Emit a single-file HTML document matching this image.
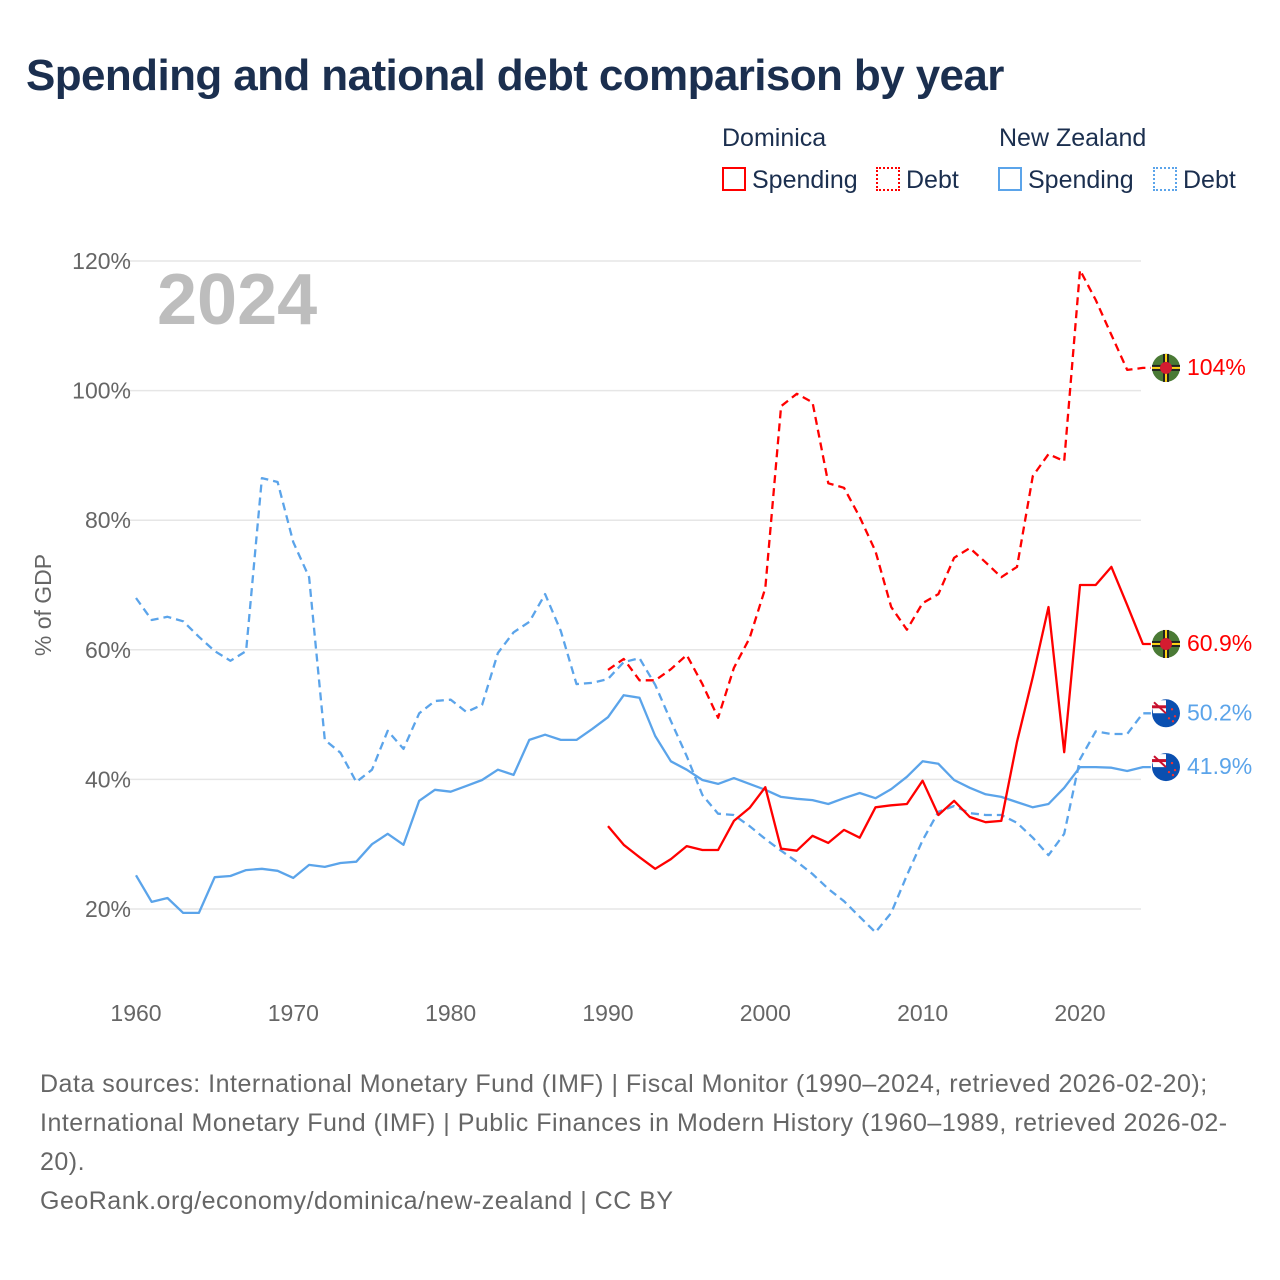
<!DOCTYPE html>
<html><head><meta charset="utf-8">
<style>
body{margin:0;background:#fff;font-family:"Liberation Sans",sans-serif;}
#wrap{position:relative;width:1280px;height:1280px;overflow:hidden;}
.t{position:absolute;white-space:nowrap;}
</style></head>
<body>
<div id="wrap">
<div class="t" style="left:26px;top:51px;font-size:44px;font-weight:bold;color:#1b2f4f;letter-spacing:-0.6px">Spending and national debt comparison by year</div>
<div class="t" style="left:722px;top:124px;font-size:25px;color:#1b2f4f">Dominica</div>
<div class="t" style="left:999px;top:124px;font-size:25px;color:#1b2f4f">New Zealand</div>
<div class="t" style="left:722px;top:166px;font-size:25px;color:#1b2f4f"><span style="display:inline-block;width:20px;height:20px;border:2px solid #f00;vertical-align:-3px;margin-right:6px"></span>Spending</div>
<div class="t" style="left:876px;top:166px;font-size:25px;color:#1b2f4f"><span style="display:inline-block;width:20px;height:20px;border:2px dotted #f00;vertical-align:-3px;margin-right:6px"></span>Debt</div>
<div class="t" style="left:998px;top:166px;font-size:25px;color:#1b2f4f"><span style="display:inline-block;width:20px;height:20px;border:2px solid #5ba4ea;vertical-align:-3px;margin-right:6px"></span>Spending</div>
<div class="t" style="left:1153px;top:166px;font-size:25px;color:#1b2f4f"><span style="display:inline-block;width:20px;height:20px;border:2px dotted #5ba4ea;vertical-align:-3px;margin-right:6px"></span>Debt</div>
<svg id="chart" width="1280" height="1280" style="position:absolute;left:0;top:0"></svg>
<div class="t" style="left:40px;top:1065px;font-size:25px;letter-spacing:0.5px;color:#666;line-height:39px;white-space:normal;width:1195px">Data sources: International Monetary Fund (IMF) | Fiscal Monitor (1990–2024, retrieved 2026-02-20); International Monetary Fund (IMF) | Public Finances in Modern History (1960–1989, retrieved 2026-02-20).<br>GeoRank.org/economy/dominica/new-zealand | CC BY</div>
</div>
<script>
const nzYears0 = 1960;
const nzSpending = [25.2,21.1,21.7,19.4,19.4,24.9,25.1,26.0,26.2,25.9,24.8,26.8,26.5,27.1,27.3,30.0,31.6,29.9,36.7,38.4,38.1,39.0,39.9,41.5,40.7,46.1,46.9,46.1,46.1,47.8,49.6,53.0,52.6,46.7,42.8,41.5,39.9,39.3,40.2,39.3,38.4,37.3,37.0,36.8,36.2,37.1,37.9,37.1,38.5,40.4,42.8,42.4,39.9,38.7,37.7,37.3,36.5,35.7,36.2,38.7,41.9,41.9,41.8,41.3,41.9];
const nzDebt = [68.0,64.6,65.1,64.4,62.0,59.8,58.3,59.8,86.5,85.9,76.6,71.2,46.1,44.1,39.6,41.5,47.5,44.7,50.2,52.1,52.3,50.4,51.5,59.5,62.7,64.3,68.6,62.9,54.7,54.9,55.5,58.1,58.7,54.6,49.0,43.6,37.6,34.7,34.5,32.8,30.8,29.0,27.3,25.4,23.1,21.2,18.8,16.4,19.4,25.2,30.6,35.0,35.9,34.8,34.5,34.5,33.3,31.0,28.3,31.6,43.1,47.4,47.0,47.0,50.2];
const dmYears0 = 1990;
const dmSpending = [32.8,29.9,28.0,26.2,27.7,29.7,29.1,29.1,33.6,35.6,38.8,29.3,29.0,31.3,30.2,32.2,31.0,35.7,36.0,36.2,39.8,34.5,36.7,34.2,33.4,33.6,45.8,55.8,66.6,44.2,70.0,70.0,72.8,66.9,60.9];
const dmDebt = [56.9,58.6,55.3,55.3,57.0,59.2,54.7,49.5,57.2,61.8,69.5,97.6,99.5,98.2,85.7,85.0,80.5,75.2,66.6,63.1,67.2,68.6,74.2,75.7,73.5,71.2,72.8,86.8,90.2,89.1,118.6,114.0,108.6,103.2,103.5];
const yTicks = [20,40,60,80,100,120];
const xTicks = [1960,1970,1980,1990,2000,2010,2020];
const endLabels = ["104%","60.9%","50.2%","41.9%"];

const NS="http://www.w3.org/2000/svg";
const svg=document.getElementById('chart');
const X=y=>136+(y-1960)*15.733;
const Y=v=>261+(120-v)*6.48;
function mk(tag,attrs,parent){const e=document.createElementNS(NS,tag);for(const k in attrs)e.setAttribute(k,attrs[k]);(parent||svg).appendChild(e);return e;}

yTicks.forEach(v=>{
  const l=mk('line',{x1:120,x2:1141,y1:Y(v),y2:Y(v),stroke:'#e6e6e6','stroke-width':1.5});
  
  
  const t=mk('text',{x:131,y:Y(v)+8,'text-anchor':'end','font-size':23,fill:'#666','font-family':'Liberation Sans, sans-serif'});
  t.textContent=v+'%';
  
  
});
xTicks.forEach(v=>{
  const t=mk('text',{x:X(v),y:1021,'text-anchor':'middle','font-size':23,fill:'#666','font-family':'Liberation Sans, sans-serif'});
  t.textContent=v;
  
  
});
const yt=mk('text',{x:0,y:0,transform:'translate(51,605) rotate(-90)','text-anchor':'middle','font-size':23,fill:'#666','font-family':'Liberation Sans, sans-serif'});
yt.textContent='% of GDP';


const yr=mk('text',{x:157,y:324,'font-size':72,'font-weight':'bold',fill:'#bdbdbd','font-family':'Liberation Sans, sans-serif'});
yr.textContent='2024';



function line(arr,y0,color,dash,name){
  const pts=arr.map((v,i)=>X(y0+i).toFixed(1)+','+Y(v).toFixed(1));
  pts.push((X(y0+arr.length-1)+8).toFixed(1)+','+Y(arr[arr.length-1]).toFixed(1));
  const p=mk('polyline',{points:pts.join(' '),fill:'none',stroke:color,'stroke-width':2.3,'stroke-linejoin':'round'});
  if(dash)p.setAttribute('stroke-dasharray','8 5');
  
  
}
line(nzDebt,nzYears0,'#5ba4ea',true,'nz-debt-line');
line(nzSpending,nzYears0,'#5ba4ea',false,'nz-spending-line');
line(dmDebt,dmYears0,'#f00',true,'dominica-debt-line');
line(dmSpending,dmYears0,'#f00',false,'dominica-spending-line');

function dmFlag(cy,name){
  const g=mk('g',{});
  
  
  const cx=1166;
  mk('circle',{cx,cy,r:14,fill:'#4a7a35'},g);
  mk('rect',{x:cx-14,y:cy-3,width:28,height:6,fill:'#222'},g);
  mk('rect',{x:cx-14,y:cy-1,width:28,height:2,fill:'#fcd116'},g);
  mk('rect',{x:cx-3,y:cy-14,width:6,height:28,fill:'#222'},g);
  mk('rect',{x:cx-1,y:cy-14,width:2,height:28,fill:'#fcd116'},g);
  mk('circle',{cx,cy,r:6,fill:'#d41c30'},g);
}
function nzFlag(cy,name){
  const g=mk('g',{});
  
  
  const cx=1166;
  mk('circle',{cx,cy,r:14,fill:'#0a4fb0'},g);
  mk('path',{d:`M${cx-13},${cy-6} A14 14 0 0 1 ${cx-6},${cy-13} L${cx},${cy-13} L${cx},${cy} L${cx-13},${cy} Z`,fill:'#fff'},g);
  mk('line',{x1:cx-12,y1:cy-11,x2:cx,y2:cy,stroke:'#c8102e','stroke-width':2},g);
  mk('rect',{x:cx-14,y:cy-8,width:14,height:3,fill:'#c8102e'},g);
  [[6,-4],[9,3],[3,5],[7,8]].forEach(d=>mk('circle',{cx:cx+d[0],cy:cy+d[1],r:1.2,fill:'#e33'},g));
}
const lastDmDebt=dmDebt[dmDebt.length-1], lastDmSp=dmSpending[dmSpending.length-1];
const lastNzDebt=nzDebt[nzDebt.length-1], lastNzSp=nzSpending[nzSpending.length-1];
dmFlag(Y(lastDmDebt),'dominica-debt-flag');
dmFlag(Y(lastDmSp),'dominica-spending-flag');
nzFlag(Y(lastNzDebt),'nz-debt-flag');
nzFlag(Y(lastNzSp),'nz-spending-flag');
[[lastDmDebt,'#f00'],[lastDmSp,'#f00'],[lastNzDebt,'#5ba4ea'],[lastNzSp,'#5ba4ea']].forEach((d,i)=>{
  const t=mk('text',{x:1187,y:Y(d[0])+7,'font-size':23,fill:d[1],'font-family':'Liberation Sans, sans-serif'});
  t.textContent=endLabels[i];
  
  
});
</script>
</body></html>
